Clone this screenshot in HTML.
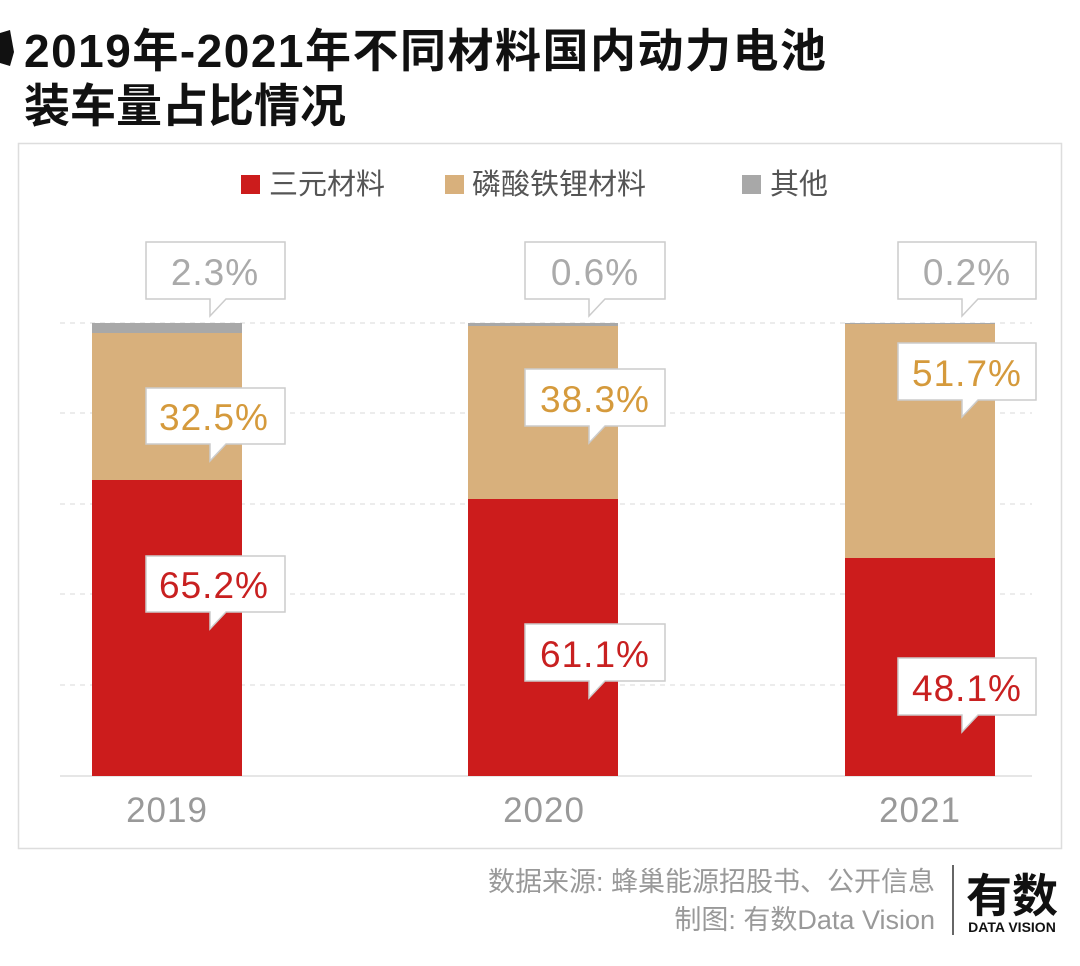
<!DOCTYPE html>
<html><head><meta charset="utf-8"><style>
body{margin:0;background:#fff;width:1080px;height:961px;overflow:hidden;font-family:"Liberation Sans","Noto Sans CJK SC",sans-serif}
</style></head><body>
<svg width="1080" height="961" xmlns="http://www.w3.org/2000/svg" font-family="Liberation Sans, Noto Sans CJK SC, sans-serif">
<path d="M0 33 L10 30 L14 52 L10 66 L0 63 Z" fill="#111"/>
<text x="24" y="67" font-size="46" font-weight="bold" fill="#111" letter-spacing="1.5">2019年-2021年不同材料国内动力电池</text>
<text x="24" y="122" font-size="46" font-weight="bold" fill="#111">装车量占比情况</text>
<rect x="18.5" y="143.5" width="1043" height="705" fill="none" stroke="#ddd" stroke-width="1.5"/>
<rect x="241" y="175" width="19" height="19" fill="#cc1c1c"/>
<text x="269" y="194" font-size="29" fill="#555">三元材料</text>
<rect x="445" y="175" width="19" height="19" fill="#d8b07c"/>
<text x="472" y="194" font-size="29" fill="#555">磷酸铁锂材料</text>
<rect x="742" y="175" width="19" height="19" fill="#a8a8a8"/>
<text x="770" y="194" font-size="29" fill="#555">其他</text>
<g stroke="#e6e6e6" stroke-width="1.5" stroke-dasharray="5,5">
<line x1="60" y1="323" x2="1032" y2="323"/><line x1="60" y1="413" x2="1032" y2="413"/>
<line x1="60" y1="504" x2="1032" y2="504"/><line x1="60" y1="594" x2="1032" y2="594"/>
<line x1="60" y1="685" x2="1032" y2="685"/></g>
<line x1="60" y1="776" x2="1032" y2="776" stroke="#ddd" stroke-width="1.5"/>
<rect x="92" y="323" width="150" height="10" fill="#a8a8a8"/>
<rect x="92" y="333" width="150" height="147" fill="#d8b07c"/>
<rect x="92" y="480" width="150" height="296" fill="#cc1c1c"/>
<rect x="468" y="323" width="150" height="3" fill="#a8a8a8"/>
<rect x="468" y="326" width="150" height="173" fill="#d8b07c"/>
<rect x="468" y="499" width="150" height="277" fill="#cc1c1c"/>
<rect x="845" y="323" width="150" height="1" fill="#a8a8a8"/>
<rect x="845" y="324" width="150" height="234" fill="#d8b07c"/>
<rect x="845" y="558" width="150" height="218" fill="#cc1c1c"/>
<g stroke="#ccc" stroke-width="1.5">
<path d="M146 242H285V299H226L210 316L210 299H146Z" fill="#fff"/>
<path d="M146 388H285V444H226L210 461L210 444H146Z" fill="#fff"/>
<path d="M146 556H285V612H226L210 629L210 612H146Z" fill="#fff"/>
<path d="M525 242H665V299H605L589 316L589 299H525Z" fill="#fff"/>
<path d="M525 369H665V426H605L589 443L589 426H525Z" fill="#fff"/>
<path d="M525 624H665V681H605L589 698L589 681H525Z" fill="#fff"/>
<path d="M898 242H1036V299H978L962 316L962 299H898Z" fill="#fff"/>
<path d="M898 343H1036V400H978L962 417L962 400H898Z" fill="#fff"/>
<path d="M898 658H1036V715H978L962 732L962 715H898Z" fill="#fff"/>
</g>
<g font-size="37" text-anchor="middle" letter-spacing="1">
<text x="215" y="285" fill="#aaa">2.3%</text>
<text x="214" y="430" fill="#d59a3c">32.5%</text>
<text x="214" y="598" fill="#c82020">65.2%</text>
<text x="595" y="285" fill="#aaa">0.6%</text>
<text x="595" y="412" fill="#d59a3c">38.3%</text>
<text x="595" y="667" fill="#c82020">61.1%</text>
<text x="967" y="285" fill="#aaa">0.2%</text>
<text x="967" y="386" fill="#d59a3c">51.7%</text>
<text x="967" y="701" fill="#c82020">48.1%</text>
</g>
<g font-size="35" fill="#999" text-anchor="middle" letter-spacing="1">
<text x="167" y="822">2019</text><text x="544" y="822">2020</text><text x="920" y="822">2021</text>
</g>
<g font-size="27" fill="#999" text-anchor="end">
<text x="935" y="891">数据来源: 蜂巢能源招股书、公开信息</text>
<text x="935" y="929">制图: 有数Data Vision</text>
</g>
<line x1="953" y1="865" x2="953" y2="935" stroke="#333" stroke-width="1.5"/>
<text x="1012" y="912" font-size="46" font-weight="bold" fill="#111" text-anchor="middle">有数</text>
<text x="1012" y="932" font-size="14" font-weight="bold" fill="#111" text-anchor="middle">DATA VISION</text>
</svg>
</body></html>
